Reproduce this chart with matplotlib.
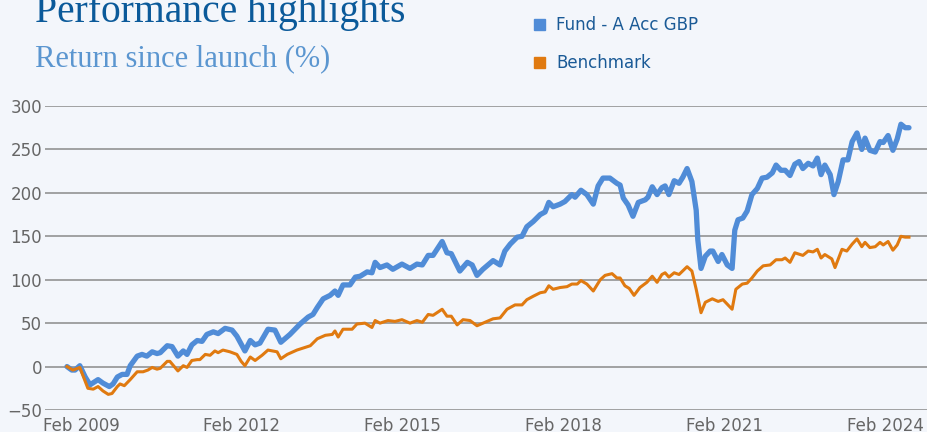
import matplotlib
matplotlib.use("Agg")
import matplotlib.pyplot as plt
from matplotlib.patches import Rectangle

# Return since launch (%) (x in decimal years)
fund_t = [2008.82, 2008.91, 2008.97, 2009.06, 2009.16, 2009.25, 2009.40, 2009.49, 2009.61, 2009.68,
          2009.76, 2009.85, 2009.94, 2010.00, 2010.13, 2010.22, 2010.31, 2010.41, 2010.50, 2010.56,
          2010.69, 2010.78, 2010.89, 2010.99, 2011.06, 2011.15, 2011.25, 2011.34, 2011.43, 2011.55,
          2011.64, 2011.77, 2011.90, 2011.99, 2012.07, 2012.14, 2012.24, 2012.33, 2012.42, 2012.57,
          2012.70, 2012.81, 2012.98, 2013.17, 2013.32, 2013.41, 2013.49, 2013.60, 2013.73, 2013.82,
          2013.88, 2013.97, 2014.10, 2014.20, 2014.29, 2014.42, 2014.51, 2014.57, 2014.66, 2014.79,
          2014.90, 2015.07, 2015.22, 2015.35, 2015.45, 2015.56, 2015.65, 2015.82, 2015.91, 2015.99,
          2016.15, 2016.29, 2016.38, 2016.47, 2016.58, 2016.77, 2016.90, 2016.99, 2017.09, 2017.22,
          2017.31, 2017.40, 2017.52, 2017.65, 2017.74, 2017.81, 2017.89, 2018.02, 2018.11, 2018.24,
          2018.30, 2018.41, 2018.52, 2018.64, 2018.73, 2018.82, 2018.95, 2019.08, 2019.14, 2019.20,
          2019.29, 2019.38, 2019.48, 2019.61, 2019.66, 2019.74, 2019.83, 2019.92, 2019.98, 2020.05,
          2020.15, 2020.24, 2020.31, 2020.39, 2020.48, 2020.56, 2020.59, 2020.65, 2020.73, 2020.82,
          2020.87, 2020.97, 2021.04, 2021.14, 2021.23, 2021.28, 2021.34, 2021.43, 2021.51, 2021.60,
          2021.70, 2021.79, 2021.88, 2021.98, 2022.05, 2022.14, 2022.22, 2022.31, 2022.40, 2022.48,
          2022.55, 2022.65, 2022.74, 2022.82, 2022.89, 2022.96, 2023.06, 2023.13, 2023.21, 2023.30,
          2023.39, 2023.47, 2023.56, 2023.65, 2023.71, 2023.80, 2023.90, 2023.99, 2024.05, 2024.14,
          2024.23, 2024.31, 2024.38, 2024.46, 2024.53]
fund_v = [0, -4, -4, 1, -12, -21, -15, -19, -23, -20,
          -12, -9, -9, 1, 12, 14, 12, 17, 15, 16,
          24, 23, 12, 18, 14, 25, 30, 29, 37, 40,
          38, 44, 42, 35, 26, 18, 30, 25, 27, 43,
          42, 28, 37, 49, 57, 60, 68, 78, 82, 87,
          82, 94, 94, 103, 104, 109, 108, 120, 114, 117,
          112, 118, 113, 118, 117, 128, 128, 144, 131, 130,
          110, 120, 117, 105, 112, 122, 117, 133, 141, 149,
          150, 161, 167, 175, 178, 189, 184, 187, 190, 198,
          195, 203, 198, 187, 208, 217, 217, 211, 209, 194,
          186, 173, 189, 192, 195, 207, 198, 206, 208, 198,
          214, 211, 218, 228, 213, 180, 146, 113, 127, 133,
          133, 121, 129, 117, 113, 157, 169, 171, 179, 198,
          205, 217, 218, 223, 232, 226, 226, 220, 233, 236,
          228, 234, 231, 240, 221, 232, 221, 198, 213, 238,
          238, 259, 269, 250, 263, 249, 247, 259, 258, 266,
          249, 262, 279, 275, 275]

bench_t = [2008.82, 2008.93, 2009.06, 2009.21, 2009.31, 2009.40, 2009.49, 2009.59, 2009.66, 2009.76,
           2009.81, 2009.89, 2010.00, 2010.13, 2010.24, 2010.33, 2010.41, 2010.50, 2010.56, 2010.69,
           2010.74, 2010.89, 2010.99, 2011.06, 2011.15, 2011.25, 2011.30, 2011.40, 2011.49, 2011.58,
           2011.64, 2011.73, 2011.86, 2011.99, 2012.07, 2012.14, 2012.24, 2012.33, 2012.46, 2012.57,
           2012.74, 2012.81, 2012.93, 2013.11, 2013.36, 2013.49, 2013.64, 2013.77, 2013.82, 2013.88,
           2013.97, 2014.14, 2014.23, 2014.38, 2014.51, 2014.57, 2014.66, 2014.81, 2014.94, 2015.07,
           2015.22, 2015.35, 2015.45, 2015.56, 2015.65, 2015.82, 2015.91, 2015.99, 2016.10, 2016.21,
           2016.34, 2016.47, 2016.62, 2016.77, 2016.90, 2017.03, 2017.18, 2017.31, 2017.40, 2017.52,
           2017.65, 2017.74, 2017.81, 2017.89, 2018.02, 2018.15, 2018.24, 2018.34, 2018.41, 2018.52,
           2018.64, 2018.77, 2018.86, 2018.99, 2019.08, 2019.14, 2019.23, 2019.31, 2019.40, 2019.51,
           2019.64, 2019.74, 2019.83, 2019.92, 2019.98, 2020.05, 2020.15, 2020.24, 2020.39, 2020.48,
           2020.56, 2020.65, 2020.73, 2020.86, 2020.97, 2021.06, 2021.23, 2021.30, 2021.42, 2021.51,
           2021.60, 2021.70, 2021.81, 2021.94, 2022.05, 2022.16, 2022.22, 2022.31, 2022.40, 2022.50,
           2022.55, 2022.65, 2022.74, 2022.82, 2022.89, 2022.96, 2023.09, 2023.15, 2023.28, 2023.37,
           2023.47, 2023.56, 2023.65, 2023.71, 2023.80, 2023.90, 2023.99, 2024.05, 2024.14, 2024.23,
           2024.31, 2024.38, 2024.46, 2024.53]
bench_v = [0, -4, -1, -25, -26, -23, -28, -32, -31, -23,
           -20, -22, -15, -6, -6, -4, -1, -3, -2, 6,
           6, -5, 1, -1, 7, 8, 8, 14, 13, 18,
           16, 19, 17, 14, 6, 1, 11, 7, 13, 19,
           17, 9, 14, 19, 24, 32, 36, 37, 41, 34,
           43, 43, 49, 50, 45, 53, 50, 53, 52, 54,
           50, 53, 51, 60, 59, 66, 58, 58, 48, 54,
           53, 47, 51, 55, 56, 66, 71, 71, 77, 81,
           85, 86, 93, 89, 91, 92, 95, 95, 99, 95,
           87, 100, 105, 107, 102, 102, 93, 90, 82, 91,
           97, 104, 97, 106, 108, 103, 108, 106, 115, 110,
           89, 62, 74, 78, 75, 77, 66, 89, 95, 96,
           102, 110, 116, 117, 123, 123, 125, 120, 131, 129,
           128, 133, 132, 135, 125, 129, 124, 114, 135, 133,
           141, 147, 138, 143, 137, 138, 143, 140, 144, 134,
           140, 150, 149, 149]

tick_years = [2009, 2012, 2015, 2018, 2021, 2024]
tick_labels = ["Feb %d" % y for y in tick_years]
series_names = ["Fund - A Acc GBP", "Benchmark"]

bg = "#f3f6fb"
fund_color = "#508cd7"
bench_color = "#e07a10"

fig = plt.figure(figsize=(9.28, 4.32), dpi=100, facecolor=bg)
ax = fig.add_axes([45 / 928, 22 / 432, 883 / 928, 304 / 432])
ax.set_facecolor(bg)

ax.plot(fund_t, fund_v, color=fund_color, lw=3.8, solid_joinstyle="round", solid_capstyle="round")
ax.plot(bench_t, bench_v, color=bench_color, lw=2.2, solid_joinstyle="round")

ax.set_xlim(2008.41, 2024.885)
ax.set_ylim(-50, 300)
ax.set_yticks(range(-50, 301, 50))
ax.set_xticks([y + 1 / 12 for y in tick_years])
ax.set_xticklabels(tick_labels)
ax.grid(axis="y", color="#8a8a8a", lw=1.1)
ax.set_axisbelow(True)
for s in ax.spines.values():
    s.set_visible(False)
ax.tick_params(axis="both", length=0, labelsize=12, colors="#666666")
ax.tick_params(axis="y", pad=2)
ax.tick_params(axis="x", pad=5)

# header
fig.text(35 / 928, 1 - 22 / 432, "Performance highlights", fontsize=28.5,
         family="Liberation Serif", color="#0b5a9a", va="baseline")
fig.text(35 / 928, 1 - 66 / 432, "Return since launch (%)", fontsize=22,
         family="Liberation Serif", color="#5b96d0", va="baseline")

# legend
for i, (name, col) in enumerate(zip(series_names, [fund_color, bench_color])):
    yc = 24.5 + i * 38
    fig.patches.append(Rectangle((534 / 928, 1 - (yc + 5.5) / 432), 11 / 928, 11 / 432,
                                 transform=fig.transFigure, color=col, figure=fig))
    fig.text(556 / 928, 1 - yc / 432, name, fontsize=12, color="#1a5a96", va="center")

fig.savefig("out.png", dpi=100, facecolor=bg)
